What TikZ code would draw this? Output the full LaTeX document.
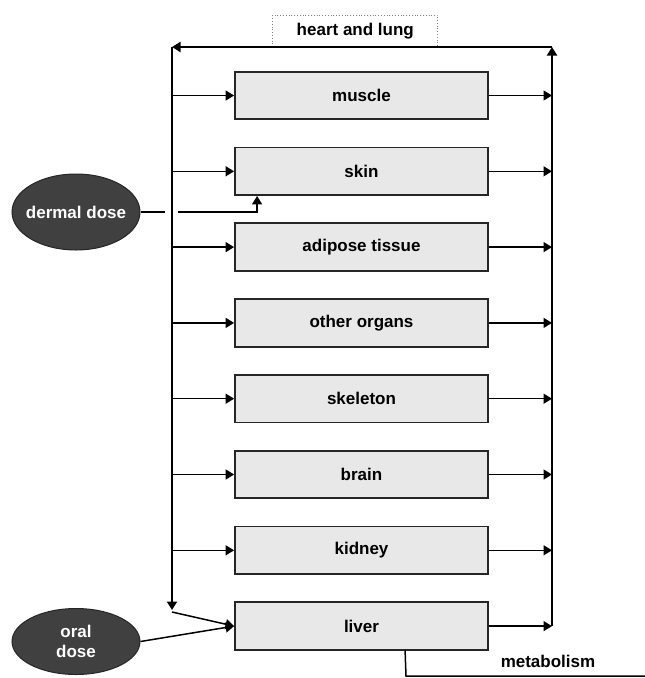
\documentclass[tikz,border=0pt]{standalone}
\usepackage{fontspec}
\setmainfont{Liberation Sans}
\usetikzlibrary{arrows.meta,shapes.geometric,calc}
\begin{document}
\begin{tikzpicture}[x=1pt,y=-1pt,
  lbl/.style={font=\fontsize{17}{20}\selectfont\bfseries},
  organ/.style={lbl, draw=black!85, line width=1.8pt, fill=black!9,
    minimum width=253pt, minimum height=47.5pt, inner sep=0pt},
  dose/.style={lbl, ellipse, draw=black!85, line width=1pt, fill=black!75,
    text=white, minimum width=128pt, inner sep=0pt, align=center},
  bus/.style={line width=2pt},
  link/.style={line width=1.5pt},
  tip/.style={-{Triangle[length=8.5pt,width=10pt]}},
  hl/.style={lbl, draw=black!50, dotted, line width=0.8pt,
    minimum width=165pt, minimum height=31pt, inner sep=0pt}
]
\useasboundingbox (0,0) rectangle (645,678);

% organ boxes
\foreach \n/\t [count=\i from 0] in {muscle/muscle, skin/skin, adipose/adipose tissue,
  other/other organs, skeleton/skeleton, brain/brain, kidney/kidney, liver/liver} {
  \node[organ] (\n) at (361.5, 95.5+75.8*\i) {\t};
  \coordinate (R\i) at (552, 95.5+75.8*\i);
  \coordinate (L\i) at (172, 95.5+75.8*\i);
}

% heart and lung
\node[hl] (hl) at (355.3,30.7) {heart and lung};

% bus coordinates
\coordinate (rbot) at (552,626);
\coordinate (rtop) at (552,47);
\coordinate (ltop) at (172,47);
\coordinate (lbot) at (172,610);
\coordinate (lliv) at (172,612);

\draw[bus,tip] (rbot) -- (rtop);
\draw[bus,tip] (rtop) -- (ltop);
\draw[bus,tip] (ltop) -- (lbot);

% arrows to and from organs
\foreach \n/\i in {muscle/0, skin/1, adipose/2, other/3, skeleton/4, brain/5, kidney/6} {
  \draw[link,tip] (L\i) -- (\n.west);
}
\foreach \n/\i in {muscle/0, skin/1, adipose/2, other/3, skeleton/4, brain/5, kidney/6, liver/7} {
  \draw[link,tip] (\n.east) -- (R\i);
}

% dermal dose
\node[dose, minimum height=76pt, inner xsep=-5pt] (dermal) at (76,212) {dermal dose};
\coordinate (d1) at (165,212);
\coordinate (d2) at (178,212);
\draw[link] (dermal.east) -- (d1);
\draw[link,tip] (d2) -| ($(skin.south west)+(23,0)$);

% oral dose
\node[dose, minimum height=66pt] (oral) at (76,641.5) {oral\\dose};
\draw[link,tip] (oral.east) -- (liver.west);
\draw[link,tip] (lliv) -- (liver.west);

% metabolism
\coordinate (m1) at (406,676);
\coordinate (m2) at (645,676);
\draw[link] ($(liver.south west)+(171,0)$) -- (m1) -- (m2);
\node[lbl] (met) at (548,661.5) {metabolism};
\end{tikzpicture}
\end{document}
